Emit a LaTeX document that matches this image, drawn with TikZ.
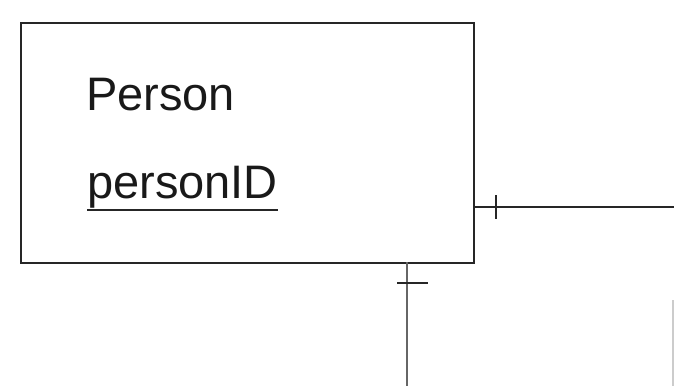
\documentclass[tikz,border=0pt]{standalone}
\usepackage{fontspec}
\setmainfont{Liberation Sans}
\begin{document}
\begin{tikzpicture}[x=1pt,y=-1pt,
  line/.style={line width=1.8pt,draw=black!85},
  lbl/.style={font=\fontsize{47}{50}\selectfont,anchor=base west,inner sep=0pt,text=black!90}]
\useasboundingbox (0,0) rectangle (674,386);
\node[line,draw,minimum width=453pt,minimum height=240pt,anchor=north west,inner sep=0pt] (ent) at (20,22) {};
\node[lbl] (name) at (86,110) {Person};
\node[lbl] (key) at (87,198) {personID};
\draw[line width=1.8pt,black!85] ([yshift=-12pt]key.base west) -- ([yshift=-12pt]key.base east);
\coordinate (r1) at (473,207);
\coordinate (r2) at (674,207);
\coordinate (b1) at (407,262);
\coordinate (b2) at (407,386);
\draw[line] (r1) -- (r2);
\draw[line] (496,195) -- (496,219);
\draw[line width=2.4pt,black!60] (b1) -- (b2);
\draw[line] (397,283) -- (428,283);
\coordinate (f1) at (673,300);
\coordinate (f2) at (673,386);
\draw[line width=1.2pt,black!20] (f1) -- (f2);
\end{tikzpicture}
\end{document}
